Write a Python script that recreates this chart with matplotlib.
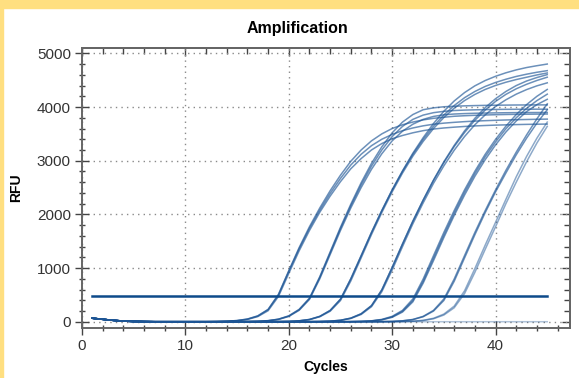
import matplotlib.pyplot as plt
from matplotlib.patches import Rectangle
from matplotlib.ticker import MultipleLocator

plt.rcParams['font.family'] = ['Liberation Sans', 'DejaVu Sans']

cycles = list(range(1, 46))
threshold = 480

# first cycles, same drop for every well
start = [65, 45, 26, 12, 5, 2]

# Ct ~18.9
g1 = [
    start + [0]*6 + [3, 10, 22, 50, 110, 230, 510, 950, 1380, 1770, 2120, 2440, 2730, 2990, 3200, 3370, 3500, 3600, 3670, 3720,
                     3760, 3790, 3810, 3828, 3838, 3846, 3852, 3857, 3861, 3864, 3866, 3868, 3870],
    start + [0]*6 + [3, 10, 21, 48, 105, 225, 500, 940, 1360, 1740, 2080, 2390, 2670, 2920, 3120, 3280, 3400, 3490, 3560, 3610,
                     3650, 3680, 3700, 3715, 3728, 3738, 3746, 3753, 3759, 3764, 3768, 3772, 3775],
    start + [0]*6 + [2, 8, 18, 42, 95, 205, 470, 900, 1320, 1700, 2040, 2340, 2610, 2850, 3040, 3200, 3320, 3410, 3470, 3520,
                     3560, 3590, 3610, 3625, 3638, 3648, 3656, 3663, 3668, 3673, 3677, 3680, 3683],
]
# Ct ~22.1
g2 = [
    start + [0]*9 + [3, 8, 20, 48, 110, 230, 440, 840, 1300, 1760, 2190, 2590, 2950, 3260, 3520, 3720, 3860, 3950,
                     3985, 4005, 4015, 4022, 4027, 4031, 4034, 4036, 4038, 4039, 4040, 4040],
    start + [0]*9 + [3, 8, 19, 46, 105, 222, 430, 825, 1280, 1735, 2160, 2550, 2900, 3200, 3450, 3640, 3770, 3850, 3895, 3920,
                     3935, 3943, 3948, 3952, 3955, 3957, 3958, 3959, 3960, 3960],
    start + [0]*9 + [2, 7, 17, 42, 98, 212, 415, 800, 1250, 1700, 2120, 2500, 2840, 3130, 3370, 3550, 3680, 3770, 3825, 3855,
                     3870, 3878, 3884, 3888, 3891, 3894, 3896, 3897, 3898, 3899],
]
# Ct ~25.2
g3 = [
    start + [0]*12 + [2, 6, 17, 42, 100, 210, 420, 800, 1230, 1664, 2072, 2456, 2810, 3140, 3430, 3694, 3922, 4113, 4269, 4395,
                      4494, 4573, 4638, 4692, 4736, 4770, 4801],
    start + [0]*12 + [2, 6, 17, 42, 100, 210, 420, 800, 1230, 1664, 2072, 2456, 2804, 3120, 3398, 3644, 3852, 4028, 4174, 4290,
                      4384, 4458, 4518, 4570, 4612, 4648, 4678],
    start + [0]*12 + [2, 5, 15, 38, 92, 195, 395, 760, 1190, 1625, 2035, 2420, 2770, 3085, 3360, 3600, 3805, 3978, 4120, 4235,
                      4328, 4402, 4462, 4512, 4555, 4598, 4635],
]
# Ct ~28.7
g4 = [
    start + [0]*15 + [1, 4, 11, 27, 67, 148, 300, 594, 1012, 1449, 1873, 2267, 2640, 2980, 3285, 3555, 3790, 3990, 4155, 4290,
                      4400, 4485, 4550, 4604],
    start + [0]*15 + [1, 4, 11, 27, 67, 148, 300, 594, 1012, 1449, 1873, 2267, 2635, 2966, 3264, 3525, 3753, 3944, 4105, 4236,
                      4340, 4424, 4495, 4556],
    start + [0]*15 + [1, 3, 10, 24, 60, 135, 280, 560, 965, 1400, 1825, 2215, 2580, 2905, 3195, 3450, 3670, 3855, 4010, 4135,
                      4240, 4325, 4395, 4451],
]
# Ct ~32.2
g5 = [
    start + [0]*19 + [2, 7, 17, 43, 100, 212, 424, 796, 1232, 1664, 2072, 2456, 2804, 3120, 3398, 3644, 3860, 4045, 4200, 4328],
    start + [0]*19 + [2, 6, 15, 38, 90, 195, 395, 755, 1185, 1615, 2025, 2410, 2760, 3075, 3350, 3595, 3800, 3975, 4120, 4240],
    start + [0]*19 + [1, 5, 13, 34, 82, 180, 370, 720, 1140, 1570, 1980, 2360, 2710, 3020, 3295, 3535, 3740, 3915, 4045, 4144],
]
# Ct ~35.3
g6 = [
    start + [0]*22 + [2, 6, 16, 39, 93, 198, 396, 754, 1188, 1621, 2033, 2419, 2771, 3110, 3420, 3700, 3950],
    start + [0]*22 + [2, 6, 17, 42, 100, 212, 424, 796, 1232, 1664, 2072, 2456, 2820, 3160, 3480, 3780, 4060],
]
# Ct ~36.7
g7 = [
    start + [0]*24 + [4, 10, 26, 64, 142, 290, 575, 990, 1428, 1852, 2280, 2700, 3080, 3420, 3720],
    start + [0]*24 + [3, 8, 22, 55, 125, 260, 525, 920, 1350, 1770, 2200, 2600, 2980, 3330, 3640],
]
ntc = start + [0]*39

for c in g1 + g2 + g3 + g4 + g5 + g6 + g7 + [ntc]:
    assert len(c) == 45

fig = plt.figure(figsize=(5.79, 3.78), dpi=100)
fig.patches.append(Rectangle((0, 1 - 8/378), 1, 8/378, transform=fig.transFigure, color='#FFDF80', zorder=0))
fig.patches.append(Rectangle((0, 0), 3/579, 1, transform=fig.transFigure, color='#FFDF80', zorder=0))

ax = fig.add_axes([82/579, 1 - 328/378, (570 - 82)/579, (328 - 48)/378])

for c in g1 + g2 + g3 + g4 + g5 + g6:
    ax.plot(cycles, c, color='#1d5595', lw=1.1, alpha=0.65)
for c in g7:
    ax.plot(cycles, c, color='#1d5595', lw=1.1, alpha=0.5)
ax.plot(cycles, ntc, color='#1d5595', lw=1.1, alpha=0.35)
ax.plot([1, 45], [threshold, threshold], color='#0d4a8a', lw=1.8, zorder=3)

ax.set_xlim(0, 47.2)
ax.set_ylim(-117, 5100)
ax.xaxis.set_major_locator(MultipleLocator(10))
ax.xaxis.set_minor_locator(MultipleLocator(2))
ax.yaxis.set_major_locator(MultipleLocator(1000))
ax.yaxis.set_minor_locator(MultipleLocator(200))
ax.grid(True, which='major', color='#8a8a8a', linestyle=(0, (1, 3)), lw=1)

ax.tick_params(which='both', direction='inout', colors='#444444', labelcolor='#333333', labelsize=11, width=1)
ax.tick_params(which='major', length=10, pad=3)
ax.tick_params(which='minor', length=5)
for s in ax.spines.values():
    s.set_color('#666666')
    s.set_linewidth(1.4)

# inward ticks on the top and right edges
top = ax.secondary_xaxis('top')
top.xaxis.set_major_locator(MultipleLocator(10))
top.xaxis.set_minor_locator(MultipleLocator(2))
right = ax.secondary_yaxis('right')
right.yaxis.set_major_locator(MultipleLocator(1000))
right.yaxis.set_minor_locator(MultipleLocator(200))
for sec in (top, right):
    sec.tick_params(which='both', direction='in', colors='#444444', width=1,
                    labeltop=False, labelright=False)
    sec.tick_params(which='major', length=6)
    sec.tick_params(which='minor', length=4)
    for s in sec.spines.values():
        s.set_color('#666666')
        s.set_linewidth(1.4)

ax.set_xlabel('Cycles', fontsize=10, fontweight='bold', labelpad=5)
ax.set_ylabel('RFU', fontsize=10, fontweight='bold', labelpad=10)
fig.text(297/579, 1 - 28/378, 'Amplification', ha='center', va='center', fontsize=11.5, fontweight='bold')

fig.savefig('out.png', dpi=100)
